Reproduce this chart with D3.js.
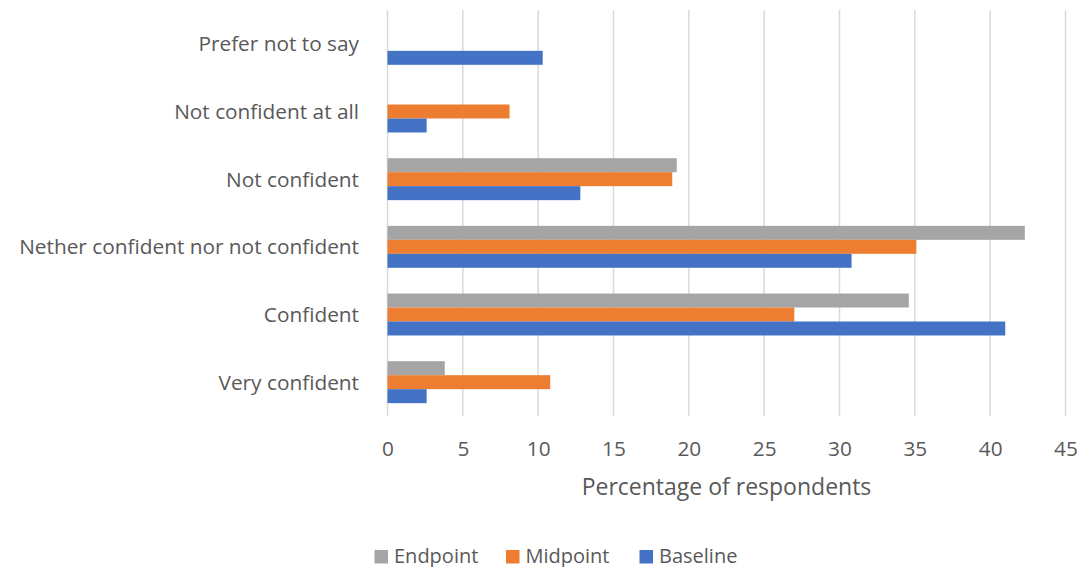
<!DOCTYPE html>
<html>
<head>
<meta charset="utf-8">
<script src="https://cdn.jsdelivr.net/npm/d3@7"></script>
<style>
  html, body { margin: 0; padding: 0; background: #fff; }
  svg text { font-family: "Open Sans", sans-serif; fill: #595959; }
</style>
</head>
<body>
<svg id="chart" width="1079" height="567"></svg>
<script>
// Confidence levels, listed top to bottom
const categories = [
  "Prefer not to say",
  "Not confident at all",
  "Not confident",
  "Nether confident nor not confident",
  "Confident",
  "Very confident"
];
// Percentage of respondents per survey wave (null = no bar)
const endpoint = [null, null, 19.2, 42.3, 34.6, 3.8];
const midpoint = [null, 8.1, 18.9, 35.1, 27.0, 10.8];
const baseline = [10.3, 2.6, 12.8, 30.8, 41.0, 2.6];
const seriesNames = ["Endpoint", "Midpoint", "Baseline"];
const seriesColors = ["#a5a5a5", "#ed7d31", "#4472c4"];
const xTicks = [0, 5, 10, 15, 20, 25, 30, 35, 40, 45];
const xTitle = "Percentage of respondents";

const series = [endpoint, midpoint, baseline];
const svg = d3.select("#chart");
const m = { left: 387.5, right: 1065.5, top: 10, bottom: 416 };
const fontSize = 20.8;

const x = d3.scaleLinear().domain([0, 45]).range([m.left, m.right]);
const y = d3.scaleBand().domain(categories).range([m.top, m.bottom]).paddingInner(0.38).paddingOuter(0.19);
const ySub = d3.scaleBand().domain(seriesNames).range([0, y.bandwidth()]);

// Vertical gridlines
svg.append("g")
  .selectAll("line")
  .data(xTicks)
  .join("line")
  .attr("x1", d => x(d)).attr("x2", d => x(d))
  .attr("y1", m.top).attr("y2", m.bottom)
  .attr("stroke", "#d9d9d9").attr("stroke-width", 1.5);

// Bars
const groups = svg.append("g")
  .selectAll("g")
  .data(categories)
  .join("g")
  .attr("transform", d => `translate(0,${y(d)})`);

groups.selectAll("rect")
  .data((d, i) => seriesNames.map((s, k) => ({ s, k, v: series[k][i] })).filter(e => e.v != null))
  .join("rect")
  .attr("x", x(0))
  .attr("y", e => ySub(e.s))
  .attr("width", e => x(e.v) - x(0))
  .attr("height", ySub.bandwidth())
  .attr("fill", e => seriesColors[e.k]);

// Category labels
const yAxis = d3.axisLeft(y).tickSize(0).tickPadding(0);
const yg = svg.append("g").attr("transform", `translate(359,1)`).call(yAxis);
yg.select(".domain").remove();
yg.selectAll("text").attr("font-size", fontSize).style("font-family", "'Open Sans', sans-serif").attr("fill", "#595959");

// Value axis labels
const xAxis = d3.axisBottom(x).tickValues(xTicks).tickSize(0).tickPadding(0);
const xg = svg.append("g").attr("transform", `translate(0,441)`).call(xAxis);
xg.select(".domain").remove();
xg.selectAll("text").attr("font-size", fontSize).style("font-family", "'Open Sans', sans-serif").attr("fill", "#595959");

svg.append("text")
  .attr("x", x(22.5)).attr("y", 495)
  .attr("text-anchor", "middle")
  .attr("font-size", 23)
  .text(xTitle);

// Legend
const legendX = [374.5, 506, 639.5];
const lg = svg.append("g").selectAll("g")
  .data(seriesNames)
  .join("g")
  .attr("transform", (d, i) => `translate(${legendX[i]},550)`);
lg.append("rect").attr("width", 13.5).attr("height", 13.5).attr("fill", (d, i) => seriesColors[i]);
lg.append("text").attr("x", 19.5).attr("y", 12.5).attr("font-size", 20).text(d => d);
</script>
</body>
</html>
